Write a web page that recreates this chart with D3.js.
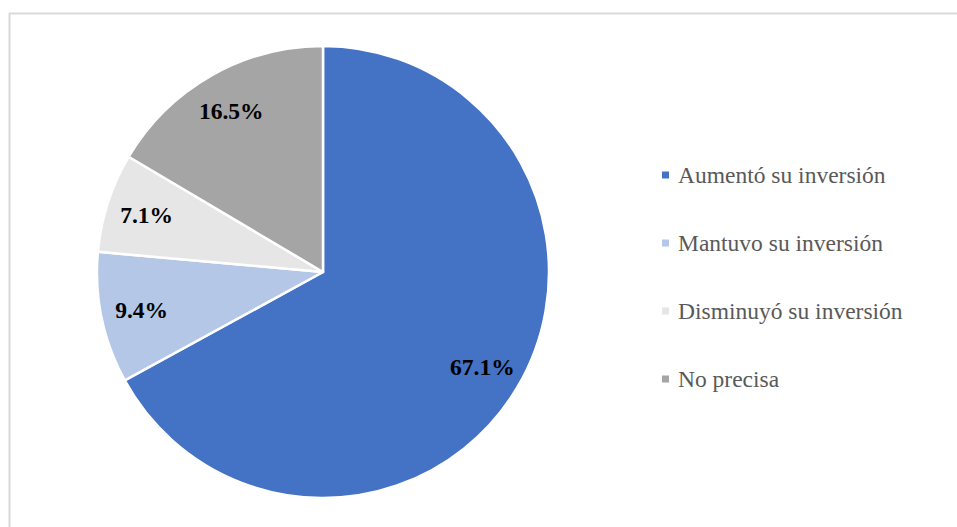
<!DOCTYPE html>
<html>
<head>
<meta charset="utf-8">
<script src="https://cdn.jsdelivr.net/npm/d3@7"></script>
<style>
  html, body { margin: 0; padding: 0; background: #fff; }
  svg { display: block; }
</style>
</head>
<body>
<svg id="chart" width="957" height="527"></svg>
<script>
// Investment change categories and their shares (%)
const categories = ["Aumentó su inversión", "Mantuvo su inversión", "Disminuyó su inversión", "No precisa"];
const values = [67.1, 9.4, 7.1, 16.5];
const colors = ["#4472C4", "#B4C7E7", "#E7E6E6", "#A5A5A5"];

const svg = d3.select("#chart");
const W = 957, H = 527;

// Chart frame
svg.append("rect")
  .attr("x", 9.5).attr("y", 13.5)
  .attr("width", W + 20).attr("height", H + 20)
  .attr("fill", "#fff")
  .attr("stroke", "#D9D9D9")
  .attr("stroke-width", 2);

const cx = 323, cy = 272, R = 226;

const pie = d3.pie().sort(null).value(d => d.value);
const data = categories.map((c, i) => ({ name: c, value: values[i], color: colors[i] }));
const arcs = pie(data);

const arc = d3.arc().innerRadius(0).outerRadius(R);
const labelArc = d3.arc().innerRadius(R * 0.82).outerRadius(R * 0.82);

const g = svg.append("g").attr("transform", `translate(${cx},${cy})`);

g.selectAll("path")
  .data(arcs)
  .join("path")
  .attr("d", arc)
  .attr("fill", d => d.data.color)
  .attr("stroke", "#fff")
  .attr("stroke-width", 2.5)
  .attr("stroke-linejoin", "round");

g.selectAll("text.val")
  .data(arcs)
  .join("text")
  .attr("class", "val")
  .attr("transform", d => `translate(${labelArc.centroid(d)})`)
  .attr("text-anchor", "middle")
  .attr("dominant-baseline", "central")
  .attr("font-family", "'Liberation Serif', 'Times New Roman', serif")
  .attr("font-weight", "bold")
  .attr("font-size", 23.5)
  .attr("fill", "#000")
  .text(d => d3.format(".1f")(d.data.value) + "%");

// Legend
const legend = svg.append("g").attr("transform", "translate(662,175)");
const rowGap = 68;
const items = legend.selectAll("g")
  .data(data)
  .join("g")
  .attr("transform", (d, i) => `translate(0,${i * rowGap})`);

items.append("rect")
  .attr("x", 0).attr("y", -3.5)
  .attr("width", 7).attr("height", 7)
  .attr("fill", d => d.color);

items.append("text")
  .attr("x", 16)
  .attr("y", 0)
  .attr("dominant-baseline", "central")
  .attr("font-family", "'Liberation Serif', 'Times New Roman', serif")
  .attr("font-size", 23.5)
  .attr("fill", "#595959")
  .text(d => d.name);
</script>
</body>
</html>
